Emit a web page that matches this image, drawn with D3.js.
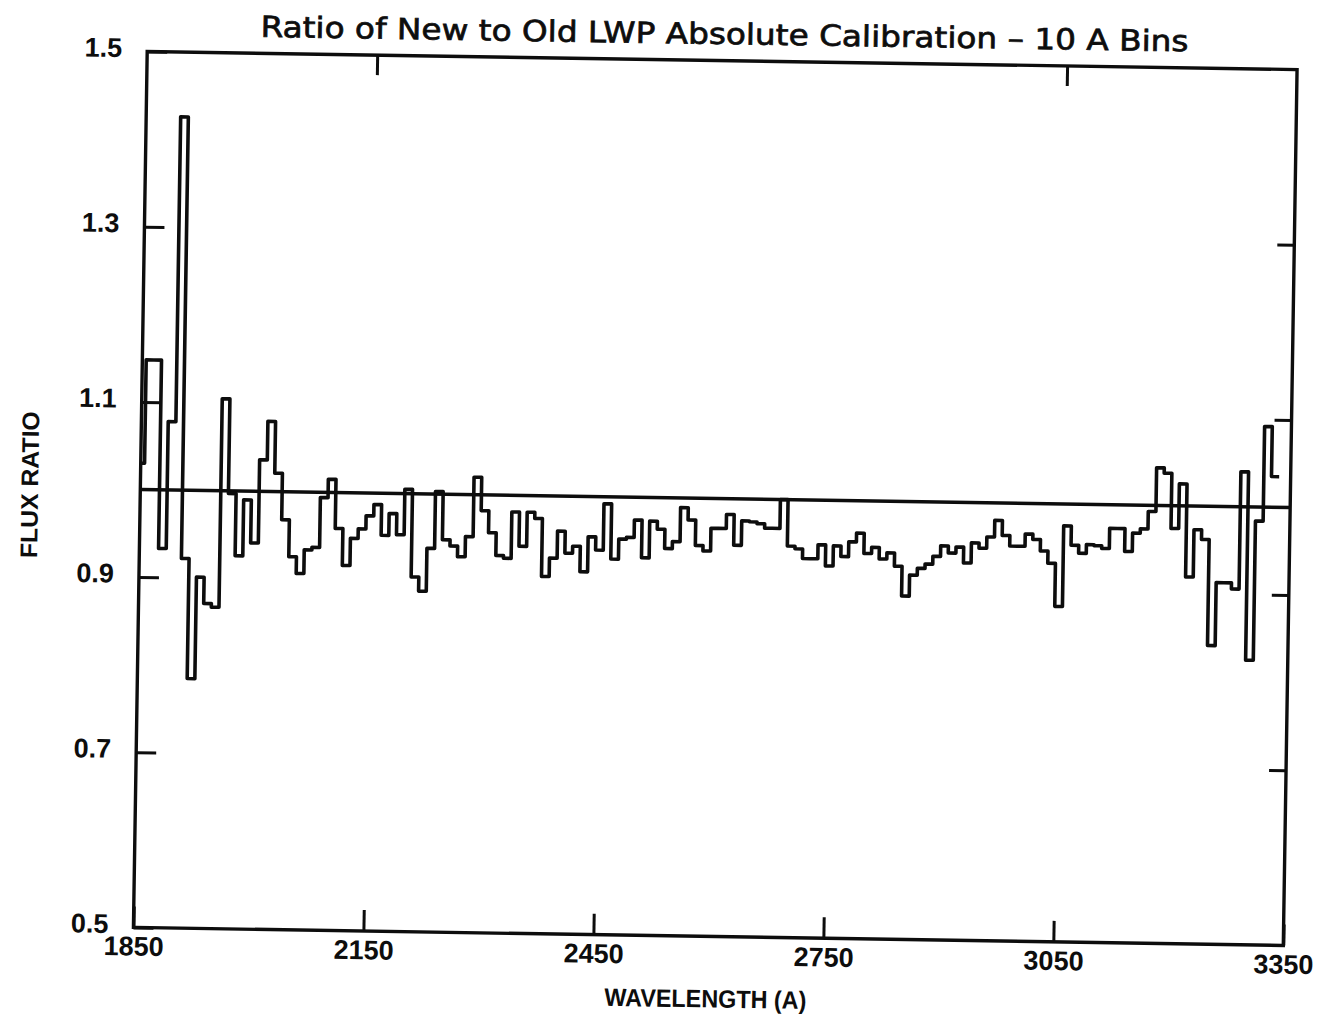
<!DOCTYPE html>
<html>
<head>
<meta charset="utf-8">
<script src="https://cdn.jsdelivr.net/npm/d3@7/dist/d3.min.js"></script>
<style>
  body { margin: 0; background: #fff; }
  #vis svg { display: block; }
  .tick-label { font-family: "Liberation Sans", Arial, sans-serif; font-weight: bold; font-size: 27px; }
</style>
</head>
<body>
<div id="vis"></div>
<script>

// 10 A bins, centre wavelength of each bin
const wavelengths = d3.range(1850, 3331, 10);

// flux ratio, one value per bin (1850 ... 3330)
const ratios = [
  1.030, 1.148, 1.148, 0.933, 1.078, 1.426, 0.922, 0.785, 0.901, 0.871,
  0.867, 1.105, 0.997, 0.926, 0.990, 0.941, 1.036, 1.080, 1.021, 0.968,
  0.926, 0.907, 0.934, 0.937, 0.994, 1.015, 0.959, 0.917, 0.948, 0.959,
  0.974, 0.987, 0.952, 0.977, 0.953, 1.005, 0.905, 0.889, 0.938, 1.003,
  0.948, 0.941, 0.929, 0.952, 1.020, 0.982, 0.957, 0.931, 0.928, 0.981,
  0.942, 0.981, 0.974, 0.908, 0.929, 0.960, 0.935, 0.943, 0.914, 0.954,
  0.939, 0.992, 0.929, 0.952, 0.954, 0.974, 0.931, 0.973, 0.964, 0.942,
  0.950, 0.989, 0.975, 0.946, 0.940, 0.966, 0.966, 0.982, 0.947, 0.975,
  0.974, 0.972, 0.967, 0.967, 1.000, 0.947, 0.944, 0.933, 0.933, 0.949,
  0.925, 0.948, 0.936, 0.953, 0.963, 0.940, 0.947, 0.934, 0.941, 0.926,
  0.892, 0.916, 0.924, 0.929, 0.938, 0.950, 0.942, 0.949, 0.931, 0.954,
  0.948, 0.961, 0.980, 0.963, 0.951, 0.951, 0.965, 0.959, 0.946, 0.932,
  0.883, 0.975, 0.953, 0.944, 0.954, 0.953, 0.950, 0.973, 0.973, 0.947,
  0.968, 0.973, 0.993, 1.043, 1.037, 0.974, 1.025, 0.919, 0.973, 0.962,
  0.841, 0.913, 0.913, 0.906, 1.040, 0.825, 0.984, 1.092, 1.035
];

const refLevel = 1.0;

// tick labels
const xTicks = [1850, 2150, 2450, 2750, 3050, 3350];
const yTicks = [0.5, 0.7, 0.9, 1.1, 1.3, 1.5];
const topTicks = [2150, 3050];
const rightTicks = [0.7, 0.9, 1.1, 1.3];

const titleText = 'Ratio of New to Old LWP Absolute Calibration \u2013 10 A Bins';
const xLabel = 'WAVELENGTH (A)';
const yLabel = 'FLUX RATIO';

const margin = {top: 60.5, right: 29.75, bottom: 81.5, left: 140.25};
const width = 1320 - margin.left - margin.right;
const height = 1018 - margin.top - margin.bottom;

const svg = d3.select('#vis')
  .append('svg')
  .attr('width', 1320)
  .attr('height', 1018);

// the scanned page is tilted a little, so the whole chart is turned with it
const page = svg.append('g')
  .attr('transform', `rotate(0.9, ${margin.left + width / 2}, ${margin.top + height / 2})`);

const g = page.append('g')
  .attr('transform', `translate(${margin.left},${margin.top})`);

const xScale = d3.scaleLinear()
  .domain([1850, 3350])
  .range([0, width]);

const yScale = d3.scaleLinear()
  .domain([0.5, 1.5])
  .range([height, 0]);

const ink = '#0d0d0d';

// axes (ticks point inward)
const xAxis = d3.axisBottom(xScale)
  .tickValues(xTicks)
  .tickSizeInner(-21)
  .tickSizeOuter(0)
  .tickPadding(9)
  .tickFormat(d3.format('d'));

const yAxis = d3.axisLeft(yScale)
  .tickValues(yTicks)
  .tickSizeInner(-20)
  .tickSizeOuter(0)
  .tickPadding(25)
  .tickFormat(d3.format('.1f'));

const topAxis = d3.axisTop(xScale)
  .tickValues(topTicks)
  .tickSizeInner(-20)
  .tickSizeOuter(0)
  .tickFormat('');

const rightAxis = d3.axisRight(yScale)
  .tickValues(rightTicks)
  .tickSizeInner(-17)
  .tickSizeOuter(0)
  .tickFormat('');

function styleAxis(sel) {
  sel.select('.domain').remove();
  sel.selectAll('.tick line').attr('stroke', ink).attr('stroke-width', 3);
  sel.selectAll('.tick text').attr('class', 'tick-label').attr('fill', ink);
}

g.append('g')
  .attr('transform', `translate(0,${height})`)
  .call(xAxis)
  .call(styleAxis);

g.append('g')
  .call(yAxis)
  .call(styleAxis)
  .selectAll('.tick text')
  .attr('dy', '0.2em');

g.append('g')
  .call(topAxis)
  .call(styleAxis);

g.append('g')
  .attr('transform', `translate(${width},0)`)
  .call(rightAxis)
  .call(styleAxis);

// frame
g.append('rect')
  .attr('x', 0)
  .attr('y', 0)
  .attr('width', width)
  .attr('height', height)
  .attr('fill', 'none')
  .attr('stroke', ink)
  .attr('stroke-width', 3.4);

// reference line at ratio 1
g.append('line')
  .attr('x1', xScale(1850))
  .attr('x2', xScale(3350))
  .attr('y1', yScale(refLevel))
  .attr('y2', yScale(refLevel))
  .attr('stroke', ink)
  .attr('stroke-width', 3.4);

// histogram-style step line, each bin 10 A wide
const half = 5;
const steps = wavelengths.map((w, i) => [Math.max(1850, w - half), ratios[i]]);
steps.push([wavelengths[wavelengths.length - 1] + half, ratios[ratios.length - 1]]);

const stepLine = d3.line()
  .x(d => xScale(d[0]))
  .y(d => yScale(d[1]))
  .curve(d3.curveStepAfter);

g.append('path')
  .datum(steps)
  .attr('d', stepLine)
  .attr('fill', 'none')
  .attr('stroke', ink)
  .attr('stroke-width', 3.6)
  .attr('stroke-linejoin', 'round');

// title
g.append('text')
  .attr('x', width / 2 + 2)
  .attr('y', 44 - margin.top)
  .attr('text-anchor', 'middle')
  .attr('textLength', 928)
  .attr('lengthAdjust', 'spacingAndGlyphs')
  .style('font-family', '"DejaVu Sans", sans-serif')
  .style('font-size', '29px')
  .attr('fill', ink)
  .attr('stroke', ink)
  .attr('stroke-width', 0.7)
  .text(titleText);

// axis labels
g.append('text')
  .attr('x', width / 2 - 2)
  .attr('y', height + 71)
  .attr('text-anchor', 'middle')
  .attr('textLength', 202)
  .attr('lengthAdjust', 'spacingAndGlyphs')
  .style('font-family', '"Liberation Sans Narrow", "Liberation Sans", Arial, sans-serif')
  .style('font-weight', 'bold')
  .style('font-size', '25px')
  .attr('fill', ink)
  .text(xLabel);

g.append('text')
  .attr('transform', `translate(${-margin.left + 38},${height / 2 - 3}) rotate(-90)`)
  .attr('text-anchor', 'middle')
  .attr('textLength', 147)
  .attr('lengthAdjust', 'spacingAndGlyphs')
  .style('font-family', '"Liberation Sans Narrow", "Liberation Sans", Arial, sans-serif')
  .style('font-weight', 'bold')
  .style('font-size', '24px')
  .attr('fill', ink)
  .text(yLabel);

</script>
</body>
</html>
